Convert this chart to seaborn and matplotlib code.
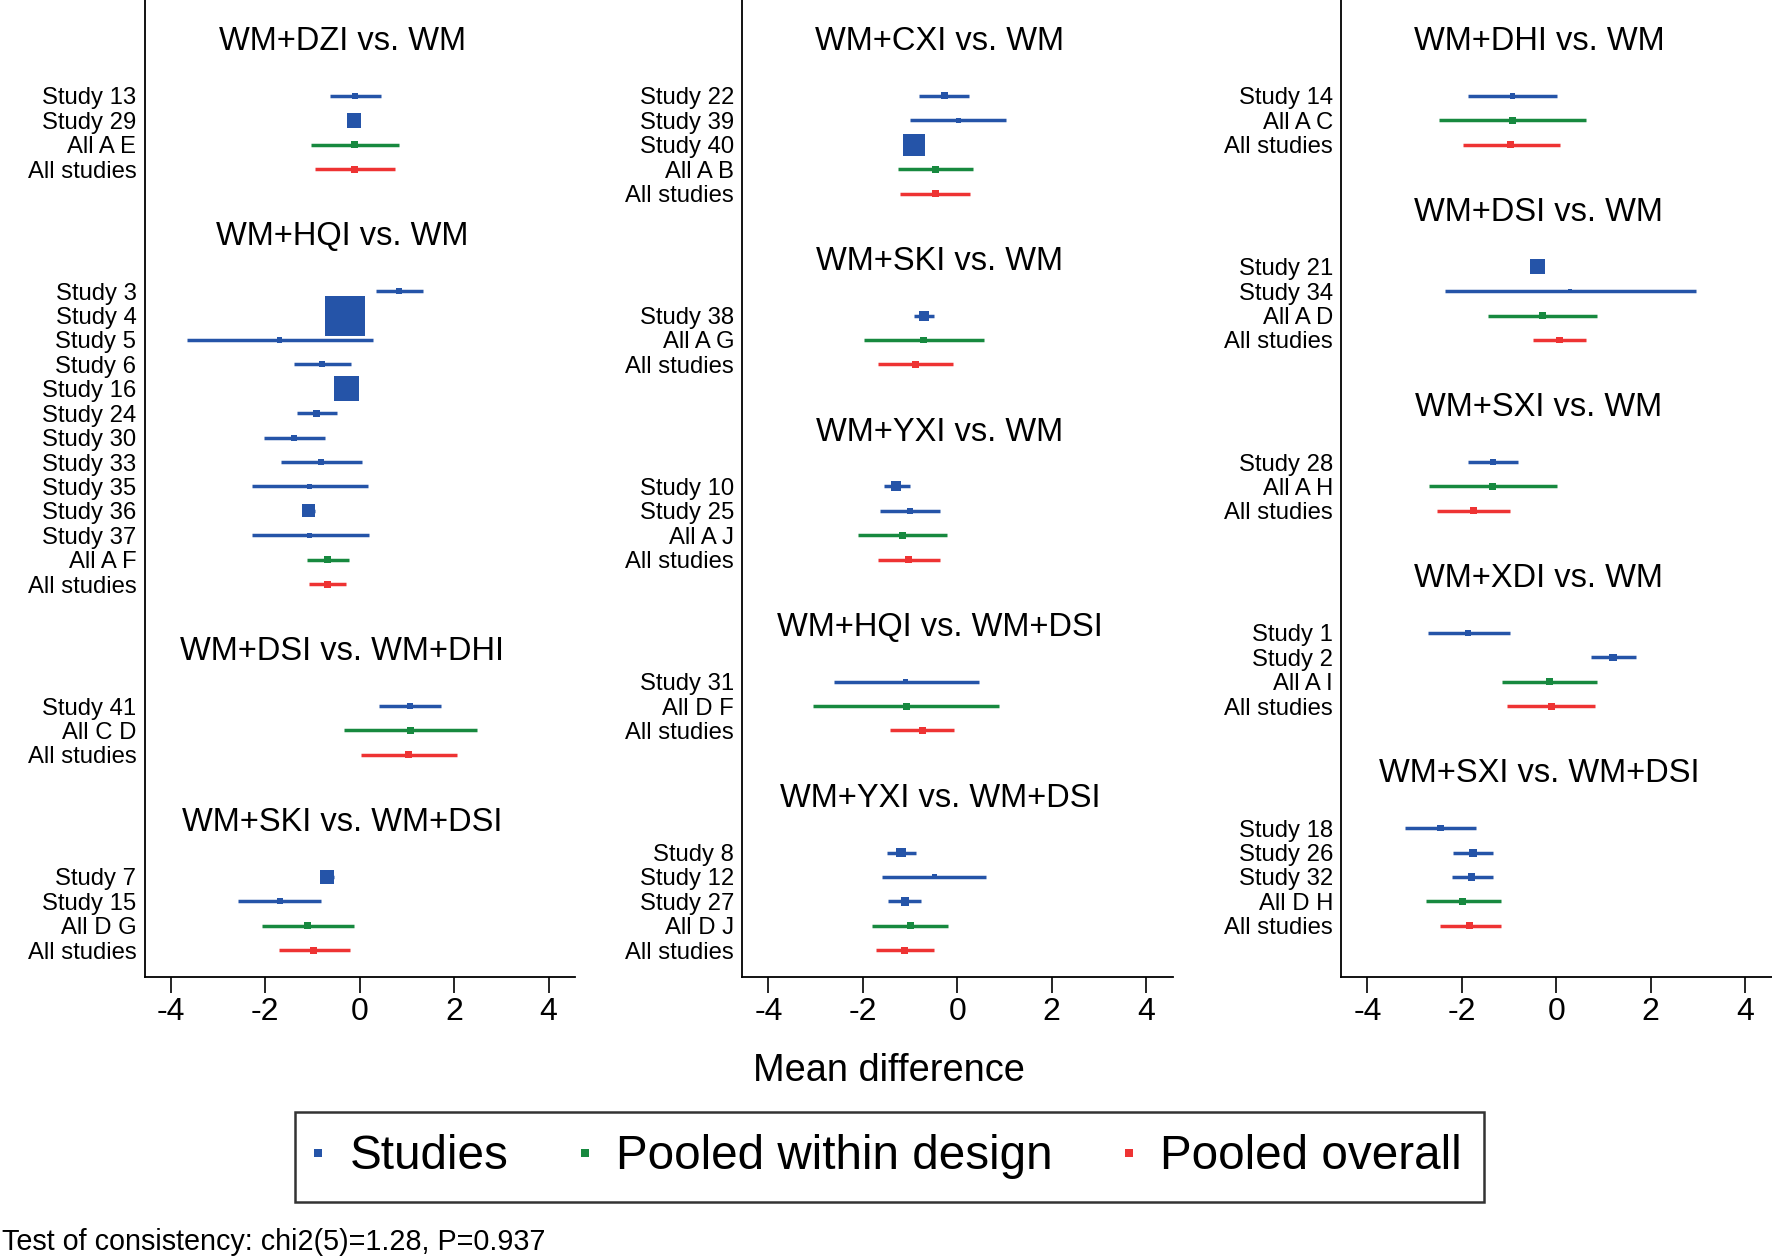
import numpy as np
import pandas as pd
import matplotlib
matplotlib.use("Agg")
import matplotlib.pyplot as plt
from matplotlib.lines import Line2D
import seaborn as sns

# ---------------- data ----------------
# Panel 1
p1_group = ["WM+DZI vs. WM"] * 4 + ["WM+HQI vs. WM"] * 13 + ["WM+DSI vs. WM+DHI"] * 3 + ["WM+SKI vs. WM+DSI"] * 4
p1_label = ["Study 13", "Study 29", "All A E", "All studies",
            "Study 3", "Study 4", "Study 5", "Study 6", "Study 16", "Study 24", "Study 30",
            "Study 33", "Study 35", "Study 36", "Study 37", "All A F", "All studies",
            "Study 41", "All C D", "All studies",
            "Study 7", "Study 15", "All D G", "All studies"]
p1_est = [-0.09, -0.12, -0.11, -0.10,
          0.83, -0.30, -1.70, -0.79, -0.28, -0.91, -1.39, -0.81, -1.06, -1.08, -1.06, -0.69, -0.68,
          1.07, 1.07, 1.04,
          -0.70, -1.69, -1.11, -0.97]
p1_lo = [-0.63, -0.22, -1.04, -0.95,
         0.34, -0.55, -3.65, -1.39, -0.50, -1.32, -2.03, -1.67, -2.28, -1.22, -2.28, -1.12, -1.08,
         0.42, -0.34, 0.02,
         -0.85, -2.57, -2.07, -1.71]
p1_hi = [0.46, -0.02, 0.83, 0.74,
         1.34, -0.05, 0.28, -0.19, -0.06, -0.49, -0.74, 0.04, 0.17, -0.94, 0.19, -0.23, -0.28,
         1.72, 2.48, 2.06,
         -0.55, -0.81, -0.11, -0.21]
p1_weight = [2.2, 14, np.nan, np.nan,
             2.2, 100, 1.6, 2.2, 39, 3.0, 2.2, 2.2, 1.6, 10.5, 1.6, np.nan, np.nan,
             2.2, np.nan, np.nan,
             12, 2.2, np.nan, np.nan]

# Panel 2
p2_group = ["WM+CXI vs. WM"] * 5 + ["WM+SKI vs. WM"] * 3 + ["WM+YXI vs. WM"] * 4 + ["WM+HQI vs. WM+DSI"] * 3 + ["WM+YXI vs. WM+DSI"] * 5
p2_label = ["Study 22", "Study 39", "Study 40", "All A B", "All studies",
            "Study 38", "All A G", "All studies",
            "Study 10", "Study 25", "All A J", "All studies",
            "Study 31", "All D F", "All studies",
            "Study 8", "Study 12", "Study 27", "All D J", "All studies"]
p2_est = [-0.28, 0.02, -0.91, -0.46, -0.47,
          -0.71, -0.71, -0.89,
          -1.29, -1.00, -1.16, -1.03,
          -1.09, -1.08, -0.74,
          -1.19, -0.49, -1.11, -1.00, -1.11]
p2_lo = [-0.81, -1.00, -1.10, -1.25, -1.21,
         -0.91, -1.97, -1.67,
         -1.55, -1.63, -2.10, -1.67,
         -2.61, -3.05, -1.42,
         -1.50, -1.59, -1.46, -1.80, -1.72]
p2_hi = [0.24, 1.04, -0.72, 0.34, 0.27,
         -0.50, 0.56, -0.10,
         -1.01, -0.37, -0.21, -0.37,
         0.45, 0.89, -0.08,
         -0.87, 0.61, -0.76, -0.19, -0.49]
p2_weight = [3.0, 1.6, 30, np.nan, np.nan,
             6.3, np.nan, np.nan,
             6.3, 2.2, np.nan, np.nan,
             1.6, np.nan, np.nan,
             5.6, 1.6, 4.5, np.nan, np.nan]

# Panel 3
p3_group = ["WM+DHI vs. WM"] * 3 + ["WM+DSI vs. WM"] * 4 + ["WM+SXI vs. WM"] * 3 + ["WM+XDI vs. WM"] * 4 + ["WM+SXI vs. WM+DSI"] * 5
p3_label = ["Study 14", "All A C", "All studies",
            "Study 21", "Study 34", "All A D", "All studies",
            "Study 28", "All A H", "All studies",
            "Study 1", "Study 2", "All A I", "All studies",
            "Study 18", "Study 26", "Study 32", "All D H", "All studies"]
p3_est = [-0.93, -0.93, -0.97,
          -0.40, 0.29, -0.30, 0.07,
          -1.34, -1.36, -1.76,
          -1.86, 1.20, -0.15, -0.11,
          -2.45, -1.76, -1.79, -1.98, -1.83]
p3_lo = [-1.88, -2.49, -1.98,
         -0.50, -2.35, -1.44, -0.50,
         -1.86, -2.70, -2.52,
         -2.72, 0.73, -1.16, -1.05,
         -3.20, -2.19, -2.21, -2.76, -2.47]
p3_hi = [0.02, 0.63, 0.07,
         -0.30, 2.95, 0.86, 0.63,
         -0.82, 0.01, -0.99,
         -0.99, 1.69, 0.86, 0.83,
         -1.71, -1.33, -1.35, -1.18, -1.18]
p3_weight = [1.9, np.nan, np.nan,
             14, 1.3, np.nan, np.nan,
             3.0, np.nan, np.nan,
             2.2, 3.5, np.nan, np.nan,
             2.6, 4.0, 3.5, np.nan, np.nan]

x_ticks = [-4, -2, 0, 2, 4]
legend_labels = ["Studies", "Pooled within design", "Pooled overall"]
x_label = "Mean difference"
footnote = "Test of consistency: chi2(5)=1.28, P=0.937"

# ---------------- styling ----------------
sns.set_theme(style="white")
plt.rcParams["font.family"] = ["Liberation Sans", "DejaVu Sans"]
plt.rcParams["text.color"] = "black"
plt.rcParams["axes.labelcolor"] = "black"
plt.rcParams["xtick.color"] = "black"
plt.rcParams["ytick.color"] = "black"

BLUE = "#2554A8"
GREEN = "#17893F"
RED = "#EE3333"
kind_colors = {"study": BLUE, "design": GREEN, "overall": RED}


def kind_of(label):
    if label.startswith("Study"):
        return "study"
    if label == "All studies":
        return "overall"
    return "design"


def build_frame(group, label, est, lo, hi, weight):
    df = pd.DataFrame({"group": group, "label": label, "est": est,
                       "lo": lo, "hi": hi, "weight": weight})
    df["kind"] = df["label"].map(kind_of)
    rows = []
    row = 4
    prev = None
    for g in df["group"]:
        if prev is not None and g != prev:
            row += 5
        elif prev is not None:
            row += 1
        rows.append(row)
        prev = g
    df["row"] = rows
    return df


panels = [
    build_frame(p1_group, p1_label, p1_est, p1_lo, p1_hi, p1_weight),
    build_frame(p2_group, p2_label, p2_est, p2_lo, p2_hi, p2_weight),
    build_frame(p3_group, p3_label, p3_est, p3_lo, p3_hi, p3_weight),
]

fig = plt.figure(figsize=(17.72, 12.6), dpi=100)
lefts = [0.0817, 0.4190, 0.7570]
bottom, width, height = 0.2246, 0.2428, 0.7754

for left, df in zip(lefts, panels):
    ax = fig.add_axes([left, bottom, width, height])
    # confidence intervals
    for kind, sub in df.groupby("kind"):
        ax.hlines(sub["row"], sub["lo"], sub["hi"], color=kind_colors[kind],
                  linewidth=2.5, zorder=2, capstyle="butt")
    # study boxes sized by weight
    studies = df[df["kind"] == "study"]
    sns.scatterplot(data=studies, x="est", y="row", size="weight",
                    sizes=(0, 829), size_norm=(0, 100), marker="s",
                    color=BLUE, linewidth=0, legend=False, ax=ax, zorder=3)
    pooled = df[df["kind"] != "study"]
    sns.scatterplot(data=pooled, x="est", y="row", hue="kind",
                    palette=kind_colors, marker="s", s=25, linewidth=0,
                    legend=False, ax=ax, zorder=3)
    # group titles
    for g, sub in df.groupby("group", sort=False):
        ax.text(-0.37, sub["row"].min() - 2.22, g, ha="center", va="center",
                fontsize=23.5, color="black")
    ax.set_xlim(-4.55, 4.56)
    ax.set_ylim(40.1, 0.07)
    ax.set_yticks(df["row"])
    ax.set_yticklabels(df["label"], fontsize=17.2)
    ax.set_xticks(x_ticks)
    ax.set_xticklabels([str(t) for t in x_ticks], fontsize=23)
    ax.tick_params(axis="y", length=0, pad=6, labelcolor="black")
    ax.tick_params(axis="x", direction="out", length=11.5, width=1.2,
                   pad=3, bottom=True, color="black", labelcolor="black")
    ax.set_xlabel("")
    ax.set_ylabel("")
    for s in ["top", "right"]:
        ax.spines[s].set_visible(False)
    for s in ["left", "bottom"]:
        ax.spines[s].set_color("black")
        ax.spines[s].set_linewidth(1.3)
    ax.set_facecolor("white")
    ax.grid(False)

fig.text(0.5019, 0.150, x_label, ha="center", va="center", fontsize=27.4,
         color="black")

handles = [Line2D([0], [0], marker="s", linestyle="none", markersize=5.5,
                  markerfacecolor=c, markeredgewidth=0)
           for c in (BLUE, GREEN, RED)]
leg = fig.legend(handles, legend_labels, loc="center", bbox_to_anchor=(0.5019, 0.0820),
                 ncol=3, fontsize=34.3, frameon=True, fancybox=False,
                 edgecolor="black", borderpad=0.47, handlelength=0.05,
                 handletextpad=0.63, columnspacing=1.575)
leg.get_frame().set_linewidth(1.8)
leg.get_frame().set_facecolor("white")
for t in leg.get_texts():
    t.set_color("black")

fig.text(0.001, 0.014, footnote, ha="left", va="center", fontsize=20.7,
         color="black")

fig.savefig("out.png", dpi=100, facecolor="white")
